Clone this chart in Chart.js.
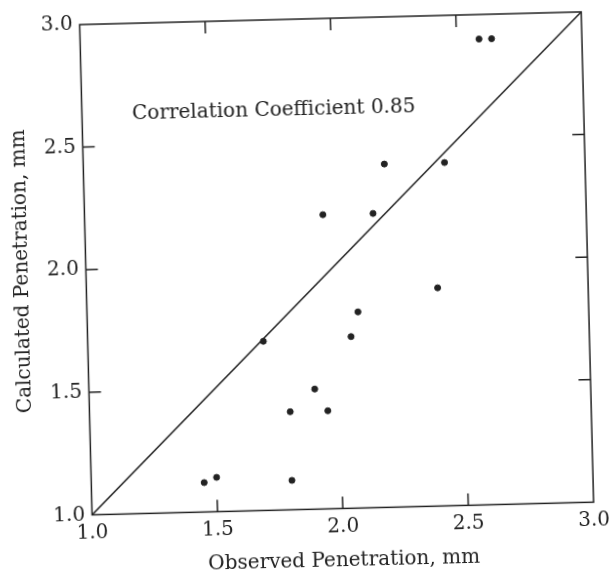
<!DOCTYPE html>
<html>
<head>
<meta charset="utf-8">
<script src="https://cdn.jsdelivr.net/npm/chart.js@4"></script>
<style>
  html, body { margin: 0; padding: 0; background: #fff; overflow: hidden; }
  #chart { display: block; transform: rotate(-1.45deg); transform-origin: 50% 50%; }
</style>
</head>
<body>
<canvas id="chart" width="610" height="575"></canvas>
<script>
// observed vs calculated penetration (mm)
const observed   = [2.59, 2.64, 2.20, 2.44, 1.95, 2.15, 2.40, 2.08, 2.05, 1.70, 1.90, 1.80, 1.95, 1.45, 1.50, 1.80];
const calculated = [2.90, 2.90, 2.40, 2.40, 2.20, 2.20, 1.89, 1.80, 1.70, 1.69, 1.49, 1.40, 1.40, 1.12, 1.14, 1.12];
const lineX = [1.0, 3.0];
const lineY = [1.0, 3.0];
const tickValues = [1.0, 1.5, 2.0, 2.5, 3.0];
const noteText = 'Correlation Coefficient 0.85';
const noteAt = [1.2, 2.63];

const ink = '#222';
const font = { family: '"DejaVu Serif", serif', size: 20 };

const points = observed.map((x, i) => ({ x: x, y: calculated[i] }));
const diag = lineX.map((x, i) => ({ x: x, y: lineY[i] }));

// box plus inward ticks on all four sides
const frameTicks = {
    id: 'frameTicks',
    afterDatasetsDraw(chart) {
        const { ctx, chartArea: a, scales } = chart;
        const len = 12;
        ctx.save();
        ctx.strokeStyle = ink;
        ctx.lineWidth = 1.5;
        ctx.strokeRect(a.left, a.top, a.right - a.left, a.bottom - a.top);
        ctx.beginPath();
        tickValues.slice(1, -1).forEach(v => {
            const px = scales.x.getPixelForValue(v);
            ctx.moveTo(px, a.bottom); ctx.lineTo(px, a.bottom - len);
            ctx.moveTo(px, a.top); ctx.lineTo(px, a.top + len);
            const py = scales.y.getPixelForValue(v);
            ctx.moveTo(a.left, py); ctx.lineTo(a.left + len, py);
            ctx.moveTo(a.right, py); ctx.lineTo(a.right - len, py);
        });
        ctx.stroke();
        // note text
        ctx.fillStyle = ink;
        ctx.font = font.size + 'px ' + font.family;
        ctx.textAlign = 'left';
        ctx.textBaseline = 'middle';
        ctx.fillText(noteText, scales.x.getPixelForValue(noteAt[0]), scales.y.getPixelForValue(noteAt[1]));
        ctx.restore();
    }
};

new Chart(document.getElementById('chart'), {
    type: 'scatter',
    data: {
        datasets: [
            {
                data: points,
                backgroundColor: ink,
                borderColor: ink,
                pointRadius: 3,
                pointHoverRadius: 3
            },
            {
                type: 'line',
                data: diag,
                borderColor: ink,
                borderWidth: 1.5,
                pointRadius: 0,
                fill: false
            }
        ]
    },
    options: {
        responsive: false,
        animation: false,
        layout: { padding: { top: 17, right: 18.6, bottom: 0, left: 0 } },
        plugins: { legend: { display: false }, tooltip: { enabled: false } },
        scales: {
            x: {
                type: 'linear',
                min: 1, max: 3,
                afterBuildTicks: s => { s.ticks = tickValues.map(v => ({ value: v })); },
                afterFit: s => { s.height = 65.6; },
                grid: { display: false, drawTicks: false },
                border: { display: false },
                ticks: { color: ink, font: font, padding: 6, maxRotation: 0, callback: v => v.toFixed(1) },
                title: { display: true, text: 'Observed Penetration, mm', color: ink, font: font, padding: { top: 0, bottom: 1 } }
            },
            y: {
                type: 'linear',
                min: 1, max: 3,
                afterBuildTicks: s => { s.ticks = tickValues.map(v => ({ value: v })); },
                afterFit: s => { s.width = 86.4; },
                grid: { display: false, drawTicks: false },
                border: { display: false },
                ticks: { color: ink, font: font, padding: 7, callback: v => v.toFixed(1) },
                title: { display: true, text: 'Calculated Penetration, mm', color: ink, font: font, padding: { top: 11, bottom: 0 } }
            }
        }
    },
    plugins: [frameTicks]
});
</script>
</body>
</html>
